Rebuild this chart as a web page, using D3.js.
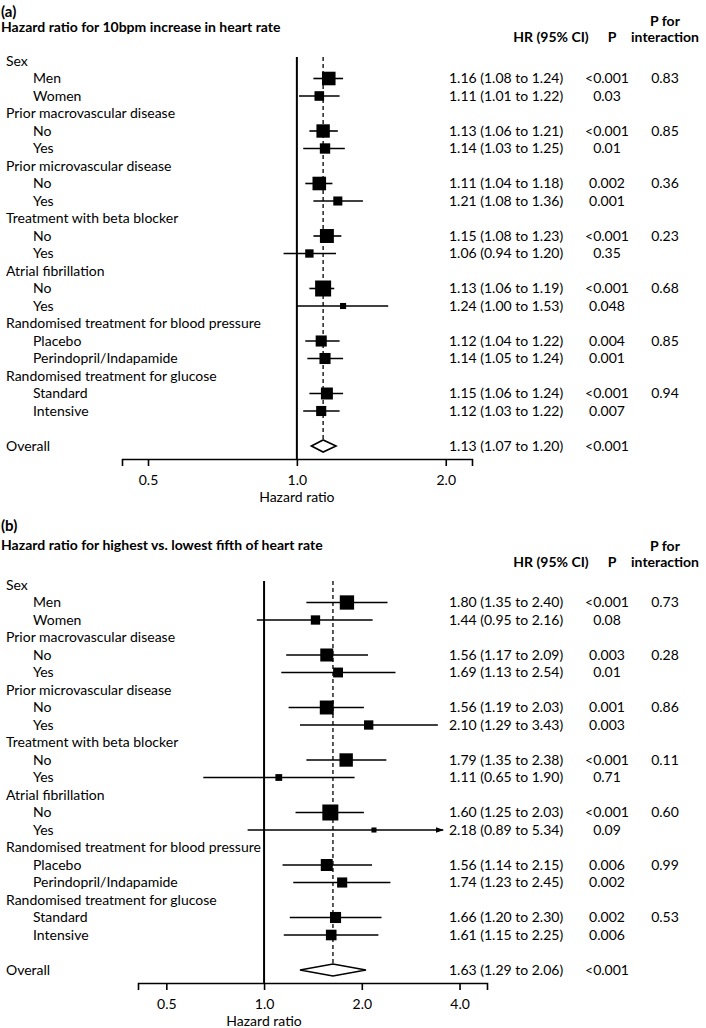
<!DOCTYPE html>
<html><head><meta charset="utf-8">
<script src="https://cdn.jsdelivr.net/npm/d3@7"></script>
<style>
body{margin:0;background:#fff;}
svg{display:block;font-family:Lato, "Open Sans", sans-serif;}
</style></head>
<body>
<svg id="chart" width="706" height="1028"></svg>
<script>
// ---------- DATA ----------
const groups = ["Sex","Prior macrovascular disease","Prior microvascular disease","Treatment with beta blocker","Atrial fibrillation","Randomised treatment for blood pressure","Randomised treatment for glucose"];
const subgroups = [["Men","Women"],["No","Yes"],["No","Yes"],["No","Yes"],["No","Yes"],["Placebo","Perindopril/Indapamide"],["Standard","Intensive"]];

// Panel (a): HR per 10bpm increase
const hrA  = [1.16,1.11,1.13,1.14,1.11,1.21,1.15,1.06,1.13,1.24,1.12,1.14,1.15,1.12];
const loA  = [1.08,1.01,1.06,1.03,1.04,1.08,1.08,0.94,1.06,1.00,1.04,1.05,1.06,1.03];
const hiA  = [1.24,1.22,1.21,1.25,1.18,1.36,1.23,1.20,1.19,1.53,1.22,1.24,1.24,1.22];
const pA   = ["<0.001","0.03","<0.001","0.01","0.002","0.001","<0.001","0.35","<0.001","0.048","0.004","0.001","<0.001","0.007"];
const pIntA = ["0.83","0.85","0.36","0.23","0.68","0.85","0.94"];
const wA   = [180,90,175,105,180,80,190,68,250,36,120,120,140,100];
const overallA = {hr:1.13, lo:1.07, hi:1.20, p:"<0.001"};
const ticksA = [0.5,1.0,2.0];

// Panel (b): HR highest vs lowest fifth
const hrB  = [1.80,1.44,1.56,1.69,1.56,2.10,1.79,1.11,1.60,2.18,1.56,1.74,1.66,1.61];
const loB  = [1.35,0.95,1.17,1.13,1.19,1.29,1.35,0.65,1.25,0.89,1.14,1.23,1.20,1.15];
const hiB  = [2.40,2.16,2.09,2.54,2.03,3.43,2.38,1.90,2.03,5.34,2.15,2.45,2.30,2.25];
const pB   = ["<0.001","0.08","0.003","0.01","0.001","0.003","<0.001","0.71","<0.001","0.09","0.006","0.002","0.002","0.006"];
const pIntB = ["0.73","0.28","0.86","0.11","0.60","0.99","0.53"];
const wB   = [200,85,165,95,190,85,175,45,250,25,140,100,120,110];
const overallB = {hr:1.63, lo:1.29, hi:2.06, p:"<0.001"};
const ticksB = [0.5,1.0,2.0,4.0];

// ---------- DRAW ----------
const svg = d3.select("#chart");
const FS = 14;

function panel(o){
  const g = svg.append("g");
  const rows = [];
  let k = 0;
  groups.forEach((gr,gi)=>{
    rows.push({type:"group", label:gr});
    subgroups[gi].forEach((s,si)=>{
      rows.push({type:"sub", label:s, hr:o.hr[k], lo:o.lo[k], hi:o.hi[k], p:o.p[k], w:o.w[k], pint: si===0?o.pint[gi]:""});
      k++;
    });
  });
  rows.push({type:"blank"});
  rows.push({type:"overall", label:"Overall", hr:o.overall.hr, lo:o.overall.lo, hi:o.overall.hi, p:o.overall.p});

  const y = d3.scaleLinear().domain([0, rows.length-1]).range([o.top, o.bottom]);
  const x = d3.scaleLog().domain(o.domain).range(o.xrange);
  const size = d3.scaleSqrt().domain([0,250]).range([0,16]);
  const id = "arr"+o.letter.replace(/\W/g,"");

  g.append("text").attr("x",1).attr("y",o.letterY).attr("font-size",15).attr("font-weight","bold").text(o.letter);
  g.append("text").attr("x",1).attr("y",o.titleY).attr("font-size",FS).attr("font-weight","bold").text(o.title);
  g.append("text").attr("x",551).attr("y",o.headY).attr("text-anchor","middle").attr("font-size",FS).attr("font-weight","bold").text("HR (95% CI)");
  g.append("text").attr("x",612).attr("y",o.headY).attr("text-anchor","middle").attr("font-size",FS).attr("font-weight","bold").text("P");
  g.append("text").attr("x",665).attr("y",o.headY-16).attr("text-anchor","middle").attr("font-size",FS).attr("font-weight","bold").text("P for");
  g.append("text").attr("x",665).attr("y",o.headY).attr("text-anchor","middle").attr("font-size",FS).attr("font-weight","bold").text("interaction");

  g.selectAll("text.lab").data(rows.filter(r=>r.label)).join("text")
    .attr("class","lab")
    .attr("x",r=>r.type==="sub"?33:6)
    .attr("y",r=>y(rows.indexOf(r)))
    .attr("dy","0.35em").attr("font-size",FS).text(r=>r.label);

  const dataRows = rows.filter(r=>r.type==="sub"||r.type==="overall");
  const fmt = d3.format(".2f");
  g.selectAll("text.hr").data(dataRows).join("text").attr("class","hr")
    .attr("x",449).attr("y",r=>y(rows.indexOf(r))).attr("dy","0.35em").attr("font-size",FS)
    .text(r=>`${fmt(r.hr)} (${fmt(r.lo)} to ${fmt(r.hi)})`);
  g.selectAll("text.p").data(dataRows).join("text").attr("class","p")
    .attr("x",607).attr("y",r=>y(rows.indexOf(r))).attr("dy","0.35em").attr("text-anchor","middle").attr("font-size",FS)
    .text(r=>r.p);
  g.selectAll("text.pi").data(dataRows.filter(r=>r.pint)).join("text").attr("class","pi")
    .attr("x",665).attr("y",r=>y(rows.indexOf(r))).attr("dy","0.35em").attr("text-anchor","middle").attr("font-size",FS)
    .text(r=>r.pint);

  g.append("line").attr("x1",x(1)).attr("x2",x(1)).attr("y1",o.lineTop).attr("y2",o.axisY)
    .attr("stroke","#000").attr("stroke-width",2);
  g.append("line").attr("x1",x(o.overall.hr)).attr("x2",x(o.overall.hr)).attr("y1",o.lineTop).attr("y2",y(rows.length-1)+6)
    .attr("stroke","#000").attr("stroke-width",1.3).attr("stroke-dasharray","4,3");

  const defs = svg.append("defs");
  defs.append("marker").attr("id",id).attr("viewBox","0 0 10 10").attr("refX",9).attr("refY",5)
    .attr("markerWidth",5).attr("markerHeight",5).attr("orient","auto")
    .append("path").attr("d","M0,1.5 L10,5 L0,8.5 Z").attr("fill","#000");

  const subs = rows.filter(r=>r.type==="sub");
  g.selectAll("line.ci").data(subs).join("line").attr("class","ci")
    .attr("x1",r=>x(Math.max(r.lo,o.clip[0]))).attr("x2",r=>x(Math.min(r.hi,o.clip[1])))
    .attr("y1",r=>y(rows.indexOf(r))).attr("y2",r=>y(rows.indexOf(r)))
    .attr("stroke","#000").attr("stroke-width",1.6)
    .attr("marker-end",r=>r.hi>o.clip[1]?`url(#${id})`:null);
  g.selectAll("rect.sq").data(subs).join("rect").attr("class","sq")
    .attr("x",r=>x(r.hr)-size(r.w)/2).attr("y",r=>y(rows.indexOf(r))-size(r.w)/2)
    .attr("width",r=>size(r.w)).attr("height",r=>size(r.w)).attr("fill","#000");

  const ov = rows[rows.length-1], oy = y(rows.length-1);
  g.append("path").attr("d",`M${x(ov.lo)},${oy} L${x(ov.hr)},${oy-6} L${x(ov.hi)},${oy} L${x(ov.hr)},${oy+6} Z`)
    .attr("fill","#fff").attr("stroke","#000").attr("stroke-width",1.6);

  const axis = d3.axisBottom(x).tickValues(o.ticks).tickFormat(d3.format(".1f")).tickSizeOuter(0).tickSize(7);
  const ax = g.append("g").attr("transform",`translate(0,${o.axisY})`).call(axis);
  ax.select(".domain").attr("stroke-width",1.6);
  ax.selectAll(".tick line").attr("stroke-width",1.6);
  ax.selectAll(".tick text").attr("font-size",FS).attr("font-family","Lato, sans-serif").attr("fill","#000").attr("dy","1.15em");
  g.append("text").attr("x",x(1)).attr("y",o.axisY+43).attr("text-anchor","middle").attr("font-size",FS).text("Hazard ratio");
}

panel({letter:"(a)", title:"Hazard ratio for 10bpm increase in heart rate",
  hr:hrA, lo:loA, hi:hiA, p:pA, pint:pIntA, w:wA, overall:overallA, ticks:ticksA,
  domain:[0.443,2.26], xrange:[122,472], clip:[0.443,2.26],
  letterY:17, titleY:32, headY:42, top:61, bottom:446, lineTop:57, axisY:459});

panel({letter:"(b)", title:"Hazard ratio for highest vs. lowest fifth of heart rate",
  hr:hrB, lo:loB, hi:hiB, p:pB, pint:pIntB, w:wB, overall:overallB, ticks:ticksB,
  domain:[0.409,4.86], xrange:[138,487], clip:[0.409,3.56],
  letterY:531, titleY:550, headY:567, top:585, bottom:970, lineTop:581, axisY:983});
</script>
</body></html>
